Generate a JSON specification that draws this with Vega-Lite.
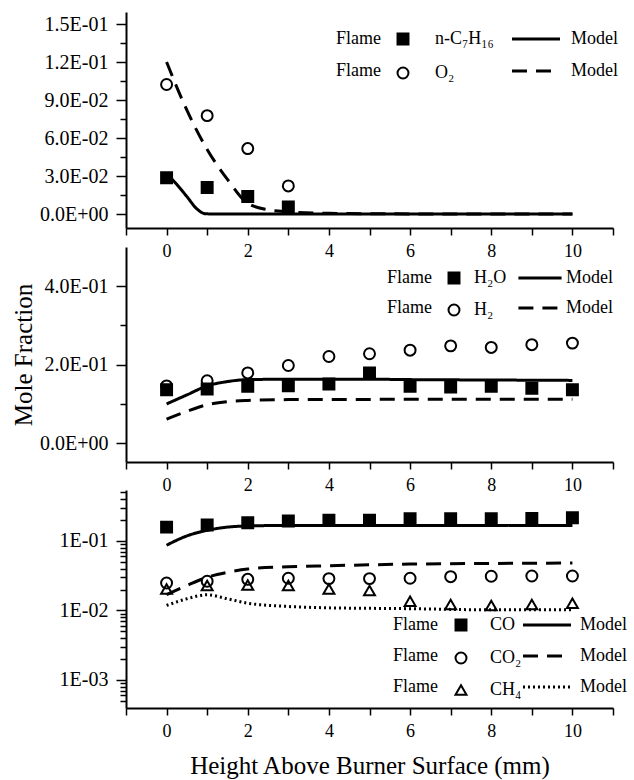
{
  "$schema": "https://vega.github.io/schema/vega-lite/v6.json",
  "background": "white",
  "padding": {"left": 11, "top": 12, "right": 5, "bottom": 5},
  "config": {
    "font": "Liberation Serif",
    "view": {"stroke": null},
    "axis": {"domainColor": "black", "domainWidth": 2, "tickColor": "black", "tickWidth": 1.5, "labelColor": "black", "titleColor": "black", "labelFont": "Liberation Serif", "titleFont": "Liberation Serif", "titleFontWeight": "normal", "grid": false, "labelOverlap": false, "labelFlush": false, "labelBound": false},
    "legend": {"labelFont": "Liberation Serif", "titleFont": "Liberation Serif", "labelColor": "black", "titleColor": "black", "titleFontWeight": "normal", "padding": 0}
  },
  "datasets": {
    "p1p": [
      {"h": 0, "v": 0.0287, "s": "n-C₇H₁₆"}, {"h": 1, "v": 0.0209, "s": "n-C₇H₁₆"}, {"h": 2, "v": 0.0138, "s": "n-C₇H₁₆"}, {"h": 3, "v": 0.0055, "s": "n-C₇H₁₆"},
      {"h": 0, "v": 0.1023, "s": "O₂"}, {"h": 1, "v": 0.0777, "s": "O₂"}, {"h": 2, "v": 0.0517, "s": "O₂"}, {"h": 3, "v": 0.0222, "s": "O₂"}
    ],
    "p1m": [
      {"h": 0, "v": 0.032, "m": "n-C₇H₁₆"}, {"h": 0.25, "v": 0.0235, "m": "n-C₇H₁₆"}, {"h": 0.5, "v": 0.0138, "m": "n-C₇H₁₆"}, {"h": 0.75, "v": 0.004, "m": "n-C₇H₁₆"}, {"h": 0.95, "v": 0.0003, "m": "n-C₇H₁₆"}, {"h": 1.2, "v": 0, "m": "n-C₇H₁₆"}, {"h": 2, "v": 0, "m": "n-C₇H₁₆"}, {"h": 4, "v": 0, "m": "n-C₇H₁₆"}, {"h": 6, "v": 0, "m": "n-C₇H₁₆"}, {"h": 8, "v": 0, "m": "n-C₇H₁₆"}, {"h": 10, "v": 0, "m": "n-C₇H₁₆"},
      {"h": 0, "v": 0.12, "m": "O₂"}, {"h": 0.5, "v": 0.082, "m": "O₂"}, {"h": 1, "v": 0.051, "m": "O₂"}, {"h": 1.5, "v": 0.0274, "m": "O₂"}, {"h": 2, "v": 0.0085, "m": "O₂"}, {"h": 2.5, "v": 0.0034, "m": "O₂"}, {"h": 3, "v": 0.0018, "m": "O₂"}, {"h": 4, "v": 0.0006, "m": "O₂"}, {"h": 5, "v": 0.0003, "m": "O₂"}, {"h": 6, "v": 0.0001, "m": "O₂"}, {"h": 8, "v": 0, "m": "O₂"}, {"h": 10, "v": 0, "m": "O₂"}
    ],
    "p2p": [
      {"h": 0, "v": 0.136, "s": "H₂O"}, {"h": 1, "v": 0.138, "s": "H₂O"}, {"h": 2, "v": 0.145, "s": "H₂O"}, {"h": 3, "v": 0.146, "s": "H₂O"}, {"h": 4, "v": 0.151, "s": "H₂O"}, {"h": 5, "v": 0.179, "s": "H₂O"}, {"h": 6, "v": 0.145, "s": "H₂O"}, {"h": 7, "v": 0.143, "s": "H₂O"}, {"h": 8, "v": 0.145, "s": "H₂O"}, {"h": 9, "v": 0.14, "s": "H₂O"}, {"h": 10, "v": 0.136, "s": "H₂O"},
      {"h": 0, "v": 0.146, "s": "H₂"}, {"h": 1, "v": 0.159, "s": "H₂"}, {"h": 2, "v": 0.179, "s": "H₂"}, {"h": 3, "v": 0.198, "s": "H₂"}, {"h": 4, "v": 0.221, "s": "H₂"}, {"h": 5, "v": 0.228, "s": "H₂"}, {"h": 6, "v": 0.237, "s": "H₂"}, {"h": 7, "v": 0.248, "s": "H₂"}, {"h": 8, "v": 0.244, "s": "H₂"}, {"h": 9, "v": 0.251, "s": "H₂"}, {"h": 10, "v": 0.255, "s": "H₂"}
    ],
    "p2m": [
      {"h": 0, "v": 0.1, "m": "H₂O"}, {"h": 0.5, "v": 0.123, "m": "H₂O"}, {"h": 1, "v": 0.146, "m": "H₂O"}, {"h": 1.5, "v": 0.157, "m": "H₂O"}, {"h": 2, "v": 0.162, "m": "H₂O"}, {"h": 3, "v": 0.163, "m": "H₂O"}, {"h": 4, "v": 0.163, "m": "H₂O"}, {"h": 5, "v": 0.163, "m": "H₂O"}, {"h": 6, "v": 0.162, "m": "H₂O"}, {"h": 8, "v": 0.161, "m": "H₂O"}, {"h": 10, "v": 0.16, "m": "H₂O"},
      {"h": 0, "v": 0.061, "m": "H₂"}, {"h": 0.5, "v": 0.081, "m": "H₂"}, {"h": 1, "v": 0.098, "m": "H₂"}, {"h": 1.5, "v": 0.106, "m": "H₂"}, {"h": 2, "v": 0.109, "m": "H₂"}, {"h": 3, "v": 0.111, "m": "H₂"}, {"h": 4, "v": 0.111, "m": "H₂"}, {"h": 6, "v": 0.112, "m": "H₂"}, {"h": 8, "v": 0.112, "m": "H₂"}, {"h": 10, "v": 0.112, "m": "H₂"}
    ],
    "p3p": [
      {"h": 0, "v": 0.158, "s": "CO"}, {"h": 1, "v": 0.169, "s": "CO"}, {"h": 2, "v": 0.183, "s": "CO"}, {"h": 3, "v": 0.193, "s": "CO"}, {"h": 4, "v": 0.199, "s": "CO"}, {"h": 5, "v": 0.199, "s": "CO"}, {"h": 6, "v": 0.208, "s": "CO"}, {"h": 7, "v": 0.208, "s": "CO"}, {"h": 8, "v": 0.208, "s": "CO"}, {"h": 9, "v": 0.211, "s": "CO"}, {"h": 10, "v": 0.215, "s": "CO"},
      {"h": 0, "v": 0.0248, "s": "CO₂"}, {"h": 1, "v": 0.0263, "s": "CO₂"}, {"h": 2, "v": 0.028, "s": "CO₂"}, {"h": 3, "v": 0.029, "s": "CO₂"}, {"h": 4, "v": 0.0287, "s": "CO₂"}, {"h": 5, "v": 0.0287, "s": "CO₂"}, {"h": 6, "v": 0.029, "s": "CO₂"}, {"h": 7, "v": 0.0306, "s": "CO₂"}, {"h": 8, "v": 0.031, "s": "CO₂"}, {"h": 9, "v": 0.0313, "s": "CO₂"}, {"h": 10, "v": 0.0313, "s": "CO₂"},
      {"h": 0, "v": 0.0204, "s": "CH₄"}, {"h": 1, "v": 0.0228, "s": "CH₄"}, {"h": 2, "v": 0.0232, "s": "CH₄"}, {"h": 3, "v": 0.0228, "s": "CH₄"}, {"h": 4, "v": 0.0204, "s": "CH₄"}, {"h": 5, "v": 0.0193, "s": "CH₄"}, {"h": 6, "v": 0.0136, "s": "CH₄"}, {"h": 7, "v": 0.0122, "s": "CH₄"}, {"h": 8, "v": 0.0118, "s": "CH₄"}, {"h": 9, "v": 0.0122, "s": "CH₄"}, {"h": 10, "v": 0.0127, "s": "CH₄"}
    ],
    "p3m": [
      {"h": 0, "v": 0.0867, "m": "CO"}, {"h": 0.5, "v": 0.118, "m": "CO"}, {"h": 1, "v": 0.142, "m": "CO"}, {"h": 1.5, "v": 0.158, "m": "CO"}, {"h": 2, "v": 0.164, "m": "CO"}, {"h": 3, "v": 0.167, "m": "CO"}, {"h": 4, "v": 0.167, "m": "CO"}, {"h": 6, "v": 0.167, "m": "CO"}, {"h": 8, "v": 0.167, "m": "CO"}, {"h": 10, "v": 0.167, "m": "CO"},
      {"h": 0, "v": 0.0169, "m": "CO₂"}, {"h": 0.5, "v": 0.0228, "m": "CO₂"}, {"h": 1, "v": 0.03, "m": "CO₂"}, {"h": 1.5, "v": 0.0353, "m": "CO₂"}, {"h": 2, "v": 0.0394, "m": "CO₂"}, {"h": 3, "v": 0.0425, "m": "CO₂"}, {"h": 4, "v": 0.044, "m": "CO₂"}, {"h": 6, "v": 0.0464, "m": "CO₂"}, {"h": 8, "v": 0.0474, "m": "CO₂"}, {"h": 10, "v": 0.048, "m": "CO₂"},
      {"h": 0, "v": 0.0118, "m": "CH₄"}, {"h": 0.5, "v": 0.0147, "m": "CH₄"}, {"h": 1, "v": 0.0168, "m": "CH₄"}, {"h": 1.5, "v": 0.0147, "m": "CH₄"}, {"h": 2, "v": 0.0127, "m": "CH₄"}, {"h": 3, "v": 0.0114, "m": "CH₄"}, {"h": 4, "v": 0.0109, "m": "CH₄"}, {"h": 6, "v": 0.0106, "m": "CH₄"}, {"h": 8, "v": 0.0102, "m": "CH₄"}, {"h": 10, "v": 0.0102, "m": "CH₄"}
    ]
  },
  "vconcat": [
    {
      "width": 487, "height": 216,
      "encoding": {
        "x": {"field": "h", "type": "quantitative", "scale": {"domain": [-1, 11], "nice": false, "zero": false},
          "axis": {"title": null, "values": [-1, 0, 1, 2, 3, 4, 5, 6, 7, 8, 9, 10, 11], "labelExpr": "datum.value >= 0 && datum.value <= 10 && datum.value % 2 === 0 ? datum.label : ''", "tickSize": 7, "labelFontSize": 18, "labelPadding": 7}},
        "y": {"field": "v", "type": "quantitative", "scale": {"domain": [-0.011, 0.1595], "nice": false, "zero": false},
          "axis": {"title": null, "values": [0, 0.015, 0.03, 0.045, 0.06, 0.075, 0.09, 0.105, 0.12, 0.135, 0.15], "labelExpr": "abs(round(datum.value / 0.015)) % 2 === 0 ? (datum.value === 0 ? '0.0E+00' : format(datum.value / pow(10, floor(log(datum.value) / LN10 + 1e-9)), '.1f') + 'E-' + format(-floor(log(datum.value) / LN10 + 1e-9), '02d')) : ''", "tickSize": {"condition": {"test": "abs(round(datum.value / 0.015)) % 2 === 1", "value": 6}, "value": 10}, "labelFontSize": 20, "labelPadding": 8}}
      },
      "layer": [
        {
          "data": {"name": "p1m"},
          "mark": {"type": "line", "color": "black", "strokeWidth": 3, "interpolate": "monotone"},
          "encoding": {
            "strokeDash": {"field": "m", "type": "nominal", "scale": {"domain": ["n-C₇H₁₆", "O₂"], "range": [[1, 0], [15, 9]]},
              "legend": {"orient": "none", "legendX": 401, "legendY": 18, "title": null, "labelExpr": "'Model'", "labelFontSize": 18, "labelOffset": 26, "rowPadding": 14, "symbolType": "M-4,0L4,0", "symbolSize": 144, "symbolStrokeWidth": 3, "symbolStrokeColor": "black"}}
          }
        },
        {
          "data": {"name": "p1p"},
          "mark": {"type": "point", "filled": true, "size": 120, "strokeWidth": 2, "opacity": 1},
          "encoding": {
            "shape": {"field": "s", "type": "nominal", "scale": {"domain": ["n-C₇H₁₆", "O₂"], "range": ["square", "circle"]},
              "legend": {"orient": "none", "legendX": 210, "legendY": 18, "title": ["Flame", "Flame"], "titleOrient": "left", "titleAnchor": "start", "titleBaseline": "top", "titleFontSize": 18, "titleLineHeight": 32, "titlePadding": 13, "labelFontSize": 18, "labelOffset": 23, "rowPadding": 14, "symbolSize": 120, "symbolStrokeWidth": 2}},
            "fill": {"field": "s", "type": "nominal", "scale": {"domain": ["n-C₇H₁₆", "O₂"], "range": ["black", "transparent"]},
              "legend": {"orient": "none", "legendX": 210, "legendY": 18, "title": ["Flame", "Flame"], "titleOrient": "left", "titleAnchor": "start", "titleBaseline": "top", "titleFontSize": 18, "titleLineHeight": 32, "titlePadding": 13, "labelFontSize": 18, "labelOffset": 23, "rowPadding": 14, "symbolSize": 120, "symbolStrokeWidth": 2}},
            "stroke": {"field": "s", "type": "nominal", "scale": {"domain": ["n-C₇H₁₆", "O₂"], "range": ["black", "black"]},
              "legend": {"orient": "none", "legendX": 210, "legendY": 18, "title": ["Flame", "Flame"], "titleOrient": "left", "titleAnchor": "start", "titleBaseline": "top", "titleFontSize": 18, "titleLineHeight": 32, "titlePadding": 13, "labelFontSize": 18, "labelOffset": 23, "rowPadding": 14, "symbolSize": 120, "symbolStrokeWidth": 2}}
          }
        }
      ],
      "resolve": {"scale": {"shape": "independent", "fill": "independent", "stroke": "independent", "strokeDash": "independent"}}
    },
    {
      "width": 487, "height": 215,
      "encoding": {
        "x": {"field": "h", "type": "quantitative", "scale": {"domain": [-1, 11], "nice": false, "zero": false},
          "axis": {"title": null, "values": [-1, 0, 1, 2, 3, 4, 5, 6, 7, 8, 9, 10, 11], "labelExpr": "datum.value >= 0 && datum.value <= 10 && datum.value % 2 === 0 ? datum.label : ''", "tickSize": 7, "labelFontSize": 18, "labelPadding": 7}},
        "y": {"field": "v", "type": "quantitative", "scale": {"domain": [-0.048, 0.5], "nice": false, "zero": false},
          "axis": {"title": "Mole Fraction", "titleFontSize": 25, "titlePadding": 3, "values": [0, 0.1, 0.2, 0.3, 0.4], "labelExpr": "round(datum.value * 10) % 2 === 0 ? (datum.value === 0 ? '0.0E+00' : format(datum.value / pow(10, floor(log(datum.value) / LN10 + 1e-9)), '.1f') + 'E-' + format(-floor(log(datum.value) / LN10 + 1e-9), '02d')) : ''", "tickSize": {"condition": {"test": "round(datum.value * 10) % 2 === 1", "value": 6}, "value": 10}, "labelFontSize": 20, "labelPadding": 8}}
      },
      "layer": [
        {
          "data": {"name": "p2m"},
          "mark": {"type": "line", "color": "black", "strokeWidth": 3, "interpolate": "monotone"},
          "encoding": {
            "strokeDash": {"field": "m", "type": "nominal", "scale": {"domain": ["H₂O", "H₂"], "range": [[1, 0], [15, 9]]},
              "legend": {"orient": "none", "legendX": 405, "legendY": 22, "title": null, "labelExpr": "'Model'", "labelFontSize": 18, "labelOffset": 17, "rowPadding": 12, "symbolType": "M-3.6,0L3.6,0", "symbolSize": 144, "symbolStrokeWidth": 3, "symbolStrokeColor": "black"}}
          }
        },
        {
          "data": {"name": "p2p"},
          "mark": {"type": "point", "filled": true, "size": 120, "strokeWidth": 2, "opacity": 1},
          "encoding": {
            "shape": {"field": "s", "type": "nominal", "scale": {"domain": ["H₂O", "H₂"], "range": ["square", "circle"]},
              "legend": {"orient": "none", "legendX": 261, "legendY": 22, "title": ["Flame", "Flame"], "titleOrient": "left", "titleAnchor": "start", "titleBaseline": "top", "titleFontSize": 18, "titleLineHeight": 30, "titlePadding": 13, "labelFontSize": 18, "labelOffset": 11, "rowPadding": 12, "symbolSize": 120, "symbolStrokeWidth": 2}},
            "fill": {"field": "s", "type": "nominal", "scale": {"domain": ["H₂O", "H₂"], "range": ["black", "transparent"]},
              "legend": {"orient": "none", "legendX": 261, "legendY": 22, "title": ["Flame", "Flame"], "titleOrient": "left", "titleAnchor": "start", "titleBaseline": "top", "titleFontSize": 18, "titleLineHeight": 30, "titlePadding": 13, "labelFontSize": 18, "labelOffset": 11, "rowPadding": 12, "symbolSize": 120, "symbolStrokeWidth": 2}},
            "stroke": {"field": "s", "type": "nominal", "scale": {"domain": ["H₂O", "H₂"], "range": ["black", "black"]},
              "legend": {"orient": "none", "legendX": 261, "legendY": 22, "title": ["Flame", "Flame"], "titleOrient": "left", "titleAnchor": "start", "titleBaseline": "top", "titleFontSize": 18, "titleLineHeight": 30, "titlePadding": 13, "labelFontSize": 18, "labelOffset": 11, "rowPadding": 12, "symbolSize": 120, "symbolStrokeWidth": 2}}
          }
        }
      ],
      "resolve": {"scale": {"shape": "independent", "fill": "independent", "stroke": "independent", "strokeDash": "independent"}}
    },
    {
      "width": 487, "height": 227,
      "encoding": {
        "x": {"field": "h", "type": "quantitative", "scale": {"domain": [-1, 11], "nice": false, "zero": false},
          "axis": {"title": "Height Above Burner Surface (mm)", "titleFontSize": 25, "titlePadding": 13, "values": [-1, 0, 1, 2, 3, 4, 5, 6, 7, 8, 9, 10, 11], "labelExpr": "datum.value >= 0 && datum.value <= 10 && datum.value % 2 === 0 ? datum.label : ''", "tickSize": 7, "labelFontSize": 18, "labelPadding": 7}},
        "y": {"field": "v", "type": "quantitative", "scale": {"type": "log", "domain": [0.000395, 0.54], "nice": false, "range": [227, 9]},
          "axis": {"title": null, "values": [0.0005, 0.0006, 0.0007, 0.0008, 0.0009, 0.001, 0.002, 0.003, 0.004, 0.005, 0.006, 0.007, 0.008, 0.009, 0.01, 0.02, 0.03, 0.04, 0.05, 0.06, 0.07, 0.08, 0.09, 0.1, 0.2, 0.3, 0.4, 0.5], "labelExpr": "abs(log(datum.value) / LN10 - round(log(datum.value) / LN10)) < 1e-6 ? '1E-0' + (-round(log(datum.value) / LN10)) : ''", "tickSize": {"condition": {"test": "abs(log(datum.value) / LN10 - round(log(datum.value) / LN10)) >= 1e-6", "value": 6}, "value": 10}, "labelFontSize": 20, "labelPadding": 8}}
      },
      "layer": [
        {
          "data": {"name": "p3m"},
          "mark": {"type": "line", "color": "black", "strokeWidth": 3, "interpolate": "monotone"},
          "encoding": {
            "strokeDash": {"field": "m", "type": "nominal", "scale": {"domain": ["CO", "CO₂", "CH₄"], "range": [[1, 0], [15, 9], [2, 3]]},
              "legend": {"orient": "none", "legendX": 412, "legendY": 135, "title": null, "labelExpr": "'Model'", "labelFontSize": 18, "labelOffset": 24, "rowPadding": 13, "symbolType": "M-4,0L4,0", "symbolSize": 144, "symbolStrokeWidth": 3, "symbolStrokeColor": "black"}}
          }
        },
        {
          "data": {"name": "p3p"},
          "mark": {"type": "point", "filled": true, "size": 120, "strokeWidth": 2, "opacity": 1},
          "encoding": {
            "shape": {"field": "s", "type": "nominal", "scale": {"domain": ["CO", "CO₂", "CH₄"], "range": ["square", "circle", "triangle-up"]},
              "legend": {"orient": "none", "legendX": 267, "legendY": 135, "title": ["Flame", "Flame", "Flame"], "titleOrient": "left", "titleAnchor": "start", "titleBaseline": "top", "titleFontSize": 18, "titleLineHeight": 31, "titlePadding": 14, "labelFontSize": 18, "labelOffset": 20, "rowPadding": 13, "symbolSize": 120, "symbolStrokeWidth": 2}},
            "fill": {"field": "s", "type": "nominal", "scale": {"domain": ["CO", "CO₂", "CH₄"], "range": ["black", "transparent", "transparent"]},
              "legend": {"orient": "none", "legendX": 267, "legendY": 135, "title": ["Flame", "Flame", "Flame"], "titleOrient": "left", "titleAnchor": "start", "titleBaseline": "top", "titleFontSize": 18, "titleLineHeight": 31, "titlePadding": 14, "labelFontSize": 18, "labelOffset": 20, "rowPadding": 13, "symbolSize": 120, "symbolStrokeWidth": 2}},
            "stroke": {"field": "s", "type": "nominal", "scale": {"domain": ["CO", "CO₂", "CH₄"], "range": ["black", "black", "black"]},
              "legend": {"orient": "none", "legendX": 267, "legendY": 135, "title": ["Flame", "Flame", "Flame"], "titleOrient": "left", "titleAnchor": "start", "titleBaseline": "top", "titleFontSize": 18, "titleLineHeight": 31, "titlePadding": 14, "labelFontSize": 18, "labelOffset": 20, "rowPadding": 13, "symbolSize": 120, "symbolStrokeWidth": 2}}
          }
        }
      ],
      "resolve": {"scale": {"shape": "independent", "fill": "independent", "stroke": "independent", "strokeDash": "independent"}}
    }
  ],
  "spacing": 19,
  "bounds": "flush",
  "resolve": {"scale": {"x": "independent", "y": "independent", "shape": "independent", "fill": "independent", "stroke": "independent", "strokeDash": "independent"}, "legend": {"shape": "independent", "fill": "independent", "stroke": "independent", "strokeDash": "independent"}}
}
